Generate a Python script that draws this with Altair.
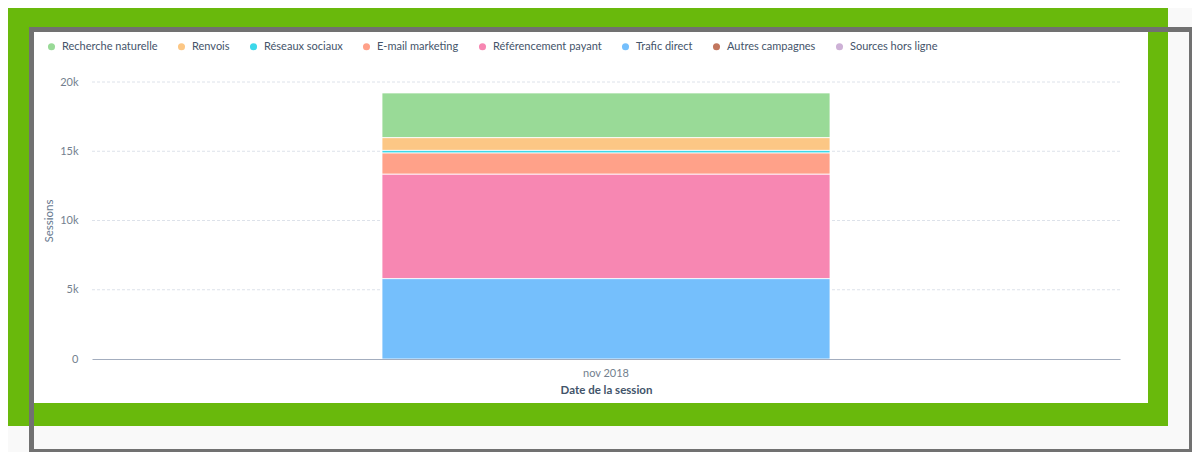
import altair as alt
import pandas as pd

# ---- data ----
categories = ["Recherche naturelle", "Renvois", "Réseaux sociaux", "E-mail marketing",
              "Référencement payant", "Trafic direct", "Autres campagnes", "Sources hors ligne"]
sessions = [3230, 920, 190, 1530, 7540, 5800, 0, 0]
stack_rank = [5, 4, 3, 2, 1, 0, 6, 7]
colors = ["#99da97", "#fcc785", "#3dd8ea", "#ffa189", "#f787b2", "#75bffc", "#c2765e", "#cdb1d6"]
month = "nov 2018"
y_ticks = [0, 5000, 10000, 15000, 20000]
grid_values = [5000, 10000, 15000, 20000]

W, H = 1028, 277
df = pd.DataFrame({"source": categories, "value": sessions, "rank": stack_rank})
df["month"] = month

yscale = alt.Scale(domain=[0, 20000], nice=False, zero=True)
y_axis = alt.Axis(values=y_ticks, grid=False, domain=False, ticks=False,
                  labelPadding=14, titlePadding=5, zindex=1,
                  labelExpr="datum.value == 0 ? '0' : (datum.value/1000) + 'k'",
                  titleFontWeight="normal", titleColor="#66788e", titleFontSize=11.5)


def deco():
    return alt.Chart(alt.Data(values=[{"k": 1}]))


green = deco().mark_rect(color="#69b90c").encode(
    x=alt.value(-86), x2=alt.value(1076), y=alt.value(-75), y2=alt.value(344))
outline = deco().mark_rect(fill="transparent", stroke="#717171", strokeWidth=5).encode(
    x=alt.value(-60.5), x2=alt.value(1099.5), y=alt.value(-52.5), y2=alt.value(369.5))
panel = deco().mark_rect(color="#ffffff").encode(
    x=alt.value(-58), x2=alt.value(1056), y=alt.value(-50), y2=alt.value(321))

grid = alt.Chart(pd.DataFrame({"v": grid_values})).mark_rule(
    color="#dde2ea", strokeDash=[3, 2], strokeWidth=1
).encode(
    y=alt.Y("v:Q", scale=yscale, title="Sessions", axis=y_axis),
    x=alt.value(0), x2=alt.value(W),
)

bars = alt.Chart(df).transform_filter("datum.value > 0").mark_bar(
    width=448, stroke="white", strokeWidth=0.8
).encode(
    x=alt.X("month:N", title="Date de la session",
            axis=alt.Axis(labelAngle=0, ticks=False, domain=True, domainColor="#a3adbe",
                          domainWidth=1.2, labelPadding=8, titlePadding=6, zindex=1,
                          labelColor="#737f8e",
                          titleFontWeight="bold", titleColor="#42546a", titleFontSize=11.5)),
    y=alt.Y("value:Q", stack="zero", scale=yscale, title="Sessions", axis=y_axis),
    color=alt.Color("source:N", scale=alt.Scale(domain=categories, range=colors),
                    legend=alt.Legend(title=None, orient="none", legendX=-46, legendY=-41,
                                      direction="horizontal", symbolType="circle",
                                      symbolSize=50, symbolStrokeWidth=0,
                                      labelFontSize=11, labelColor="#44546a",
                                      labelFont="Lato", columnPadding=18, labelOffset=5)),
    order=alt.Order("rank:Q", sort="ascending"),
)

chart = alt.layer(green, outline, panel, grid, bars).properties(
    width=W, height=H,
    autosize=alt.AutoSizeParams(type="none"),
    padding={"left": 84, "top": 74, "right": 72, "bottom": 93},
).configure(
    background="#f9f9f9", font="Lato"
).configure_view(
    strokeWidth=0
).configure_axis(
    labelFont="Lato", labelFontSize=11, labelColor="#737f8e", titleFont="Lato"
)

chart.save("out.html", embed_options={"renderer": "svg", "actions": False})
